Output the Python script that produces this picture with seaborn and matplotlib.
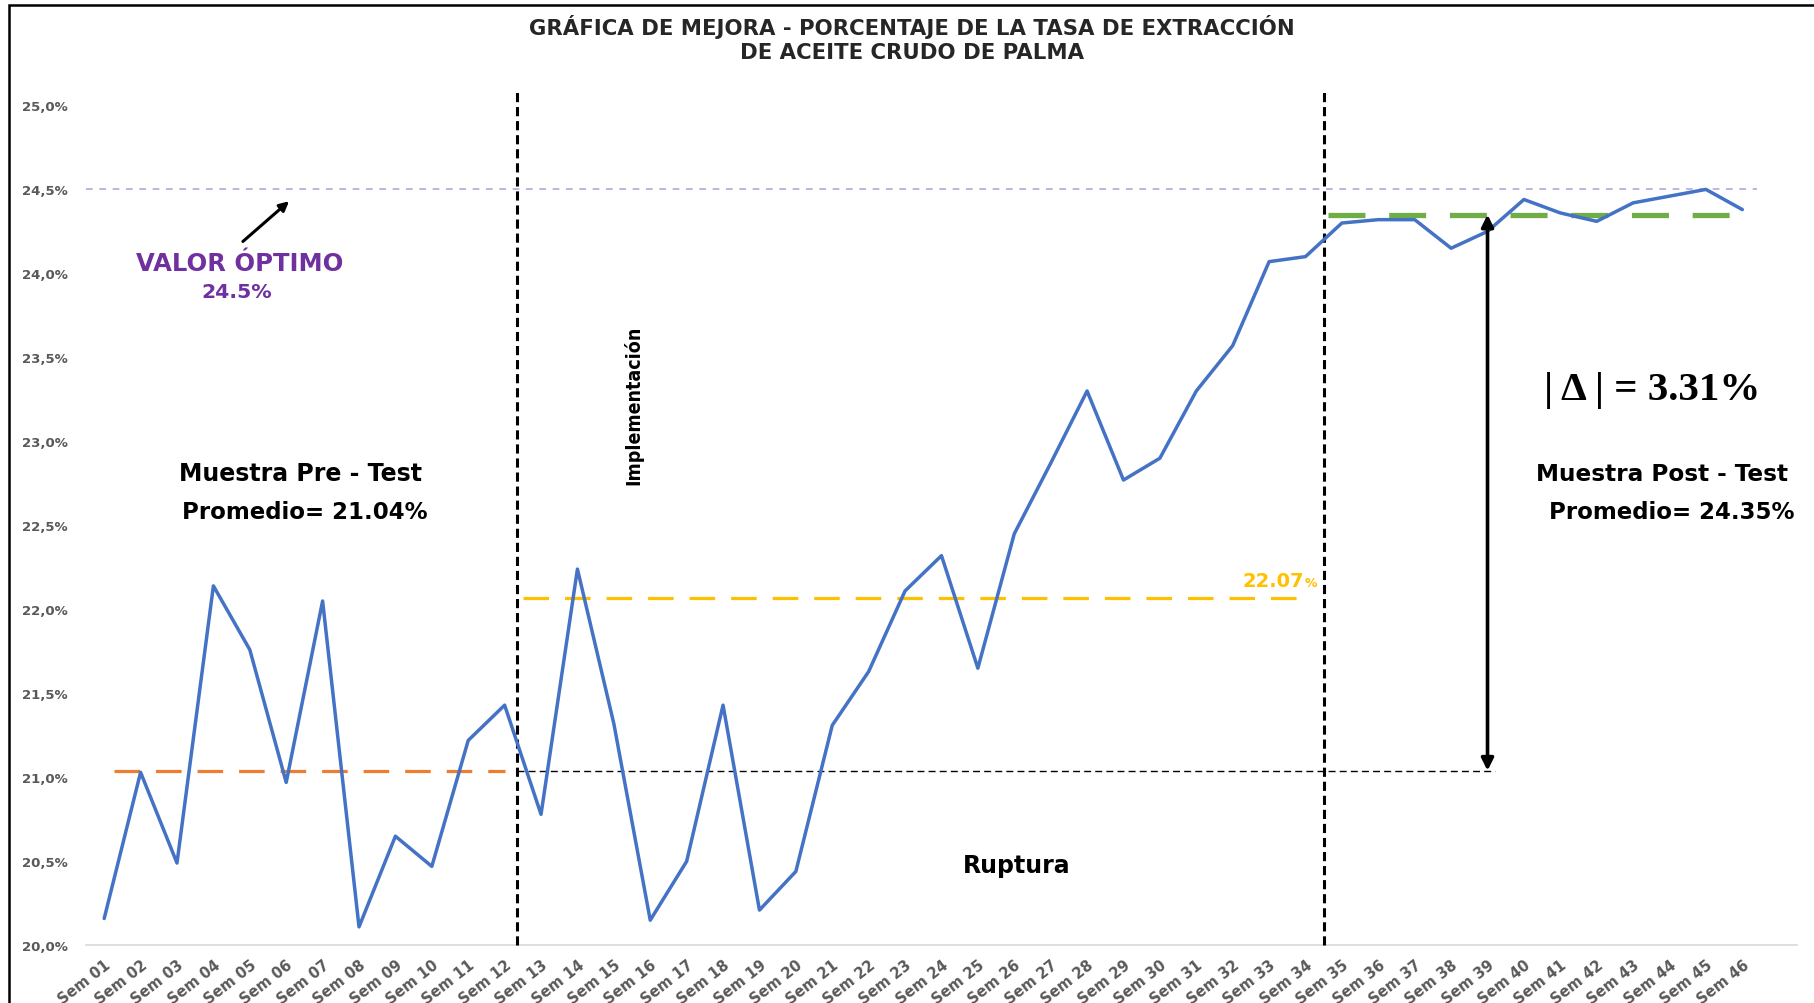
import matplotlib
matplotlib.use("Agg")
import matplotlib.pyplot as plt
from matplotlib.patches import Rectangle
from matplotlib.ticker import FuncFormatter, MultipleLocator
import seaborn as sns
import pandas as pd

# Weekly crude palm oil extraction rate (%)
semanas = [f"Sem {i:02d}" for i in range(1, 47)]
tasa = [20.16, 21.03, 20.49, 22.14, 21.76, 20.97, 22.05, 20.11, 20.65, 20.47,
        21.22, 21.43, 20.78, 22.24, 21.32, 20.15, 20.50, 21.43, 20.21, 20.44,
        21.31, 21.63, 22.11, 22.32, 21.65, 22.45, 22.87, 23.30, 22.77, 22.90,
        23.30, 23.57, 24.07, 24.10, 24.30, 24.32, 24.32, 24.15, 24.25, 24.44,
        24.36, 24.31, 24.42, 24.46, 24.50, 24.38]

# Reference levels
valor_optimo = 24.5
promedio_pre = 21.04
promedio_ruptura = 22.07
promedio_post = 24.35
delta = 3.31

# Phase boundaries (category positions)
inicio_implementacion = 11.33
inicio_post = 33.5

df = pd.DataFrame({"semana": semanas, "tasa": tasa})

sns.set_theme(style="white")
plt.rcParams["font.family"] = ["DejaVu Sans"]

fig = plt.figure(figsize=(18.14, 10.04), dpi=100)
ax = fig.add_axes([0.0474, 0.0574, 0.9432, 0.8366])

sns.lineplot(data=df, x="semana", y="tasa", ax=ax, color="#4472C4",
             linewidth=2.5, sort=False, zorder=5)

ax.set_xlim(-0.5, 46.5)
ax.set_ylim(20.0, 25.0)

# Optimal value reference
ax.plot([-0.5, 45.4], [valor_optimo] * 2, color="#B9A6DA", lw=1.2,
        dashes=(4, 4), zorder=2)

# Phase averages
ax.plot([0.27, 11.0], [promedio_pre] * 2, color="#ED7D31", lw=2.3,
        dashes=(8, 5), zorder=3)
ax.plot([11.5, 33.1], [promedio_ruptura] * 2, color="#FFC000", lw=2.3,
        dashes=(8, 5), zorder=3)
ax.plot([33.63, 45.0], [promedio_post] * 2, color="#70AD47", lw=3.8,
        dashes=(7, 4.5), zorder=3)

# Baseline carried over from the pre-test average
ax.plot([inicio_implementacion, 38.2], [promedio_pre] * 2, color="black",
        lw=1.0, dashes=(5, 3), zorder=3)

# Phase separators
for xv in (inicio_implementacion, inicio_post):
    ax.plot([xv, xv], [20.0, 25.08], color="black", lw=2.2, dashes=(3, 1.6),
            clip_on=False, zorder=4)

# Improvement arrow
ax.annotate("", xy=(38, promedio_post), xytext=(38, promedio_pre),
            arrowprops=dict(arrowstyle="<|-|>", color="black", lw=2.6,
                            mutation_scale=18, shrinkA=0, shrinkB=0),
            zorder=6)

# Optimal value callout
ax.annotate("", xy=(5.08, 24.43), xytext=(3.81, 24.19),
            arrowprops=dict(arrowstyle="-|>", color="black", lw=2.2,
                            mutation_scale=14, shrinkA=0, shrinkB=0))
ax.text(3.72, 24.06, "VALOR ÓPTIMO", color="#7030A0", fontsize=17.5,
        fontweight="bold", ha="center", va="center")
ax.text(3.65, 23.89, "24.5%", color="#7030A0", fontsize=14.7,
        fontweight="bold", ha="center", va="center")

# Phase annotations
ax.text(5.4, 22.81, "Muestra Pre - Test", fontsize=17, fontweight="bold",
        ha="center", va="center", color="black")
ax.text(5.5, 22.58, "Promedio= 21.04%", fontsize=16.5, fontweight="bold",
        ha="center", va="center", color="black")
ax.text(14.54, 23.22, "Implementación", fontsize=14, rotation=90,
        fontweight="bold", fontstretch="condensed",
        ha="center", va="center", color="black",
        family=["Liberation Sans Narrow", "DejaVu Sans Condensed", "DejaVu Sans"])
ax.text(25.06, 20.48, "Ruptura", fontsize=17, fontweight="bold",
        ha="center", va="center", color="black")
ax.text(42.8, 22.81, "Muestra Post - Test", fontsize=16.7, fontweight="bold",
        ha="center", va="center", color="black")
ax.text(43.06, 22.58, "Promedio= 24.35%", fontsize=16.5, fontweight="bold",
        ha="center", va="center", color="black")
ax.text(42.52, 23.31, f"| Δ | = {delta:.2f}%", fontsize=29.5, fontweight="bold",
        ha="center", va="center", color="black",
        family=["Liberation Serif", "DejaVu Serif"])

# Ruptura average label
ax.text(32.95, 22.17, f"{promedio_ruptura:.2f}", color="#FFC000", fontsize=14,
        fontweight="bold", ha="right", va="center")
ax.text(32.97, 22.16, "%", color="#FFC000", fontsize=9,
        fontweight="bold", ha="left", va="center")

# Axes styling
for side in ("top", "right", "left"):
    ax.spines[side].set_visible(False)
ax.spines["bottom"].set_color("#D9D9D9")
ax.spines["bottom"].set_linewidth(1.2)
ax.set_xlabel("")
ax.set_ylabel("")
ax.yaxis.set_major_locator(MultipleLocator(0.5))
ax.yaxis.set_major_formatter(
    FuncFormatter(lambda v, _: f"{v:.1f}%".replace(".", ",")))
ax.tick_params(axis="y", length=0, pad=13, labelsize=9.5, labelcolor="#595959")
ax.tick_params(axis="x", length=0, pad=8, labelsize=10.5, labelcolor="#595959")
for lbl in ax.get_yticklabels():
    lbl.set_fontweight("bold")
for lbl in ax.get_xticklabels():
    lbl.set_rotation(38)
    lbl.set_ha("right")
    lbl.set_rotation_mode("anchor")
    lbl.set_fontweight("bold")

# Title
fig.text(0.5026, 0.961,
         "GRÁFICA DE MEJORA - PORCENTAJE DE LA TASA DE EXTRACCIÓN\nDE ACEITE CRUDO DE PALMA",
         ha="center", va="center", fontsize=15.3, fontweight="bold",
         color="#262626", linespacing=1.25)

# Chart frame
fig.patches.append(Rectangle((0.005, -0.1), 1.2, 1.094, transform=fig.transFigure,
                             fill=False, edgecolor="black", lw=1.8))

fig.savefig("out.png", dpi=100, facecolor="white")
